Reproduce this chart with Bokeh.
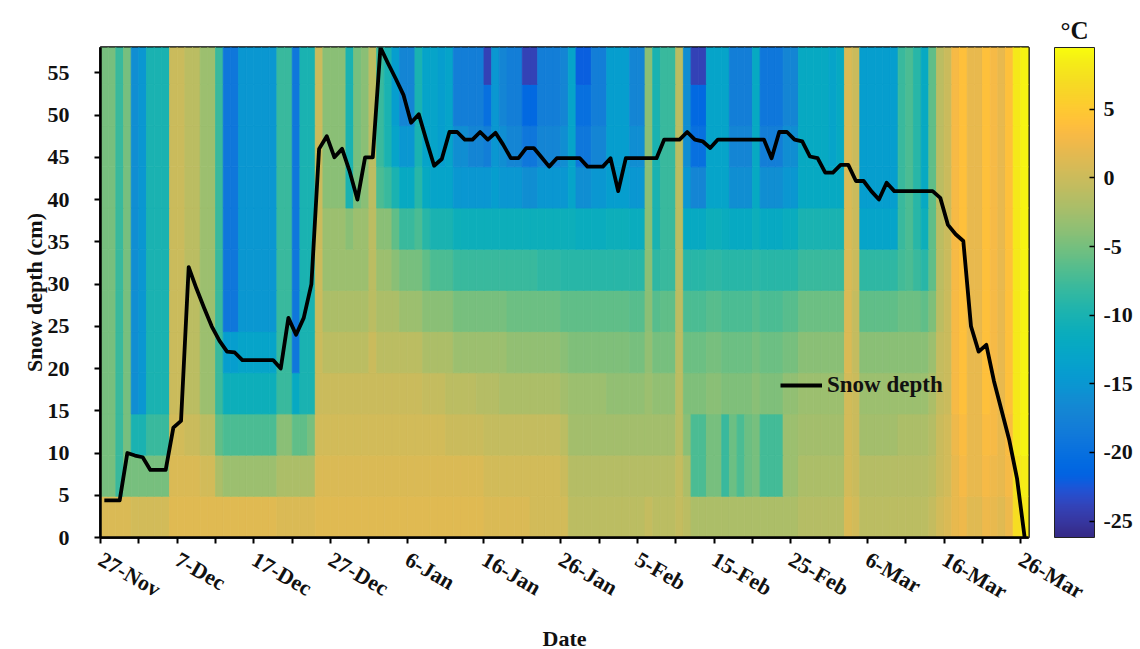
import math
import numpy as np
import pandas as pd
from bokeh.plotting import figure
from bokeh.models import (ColumnDataSource, LinearColorMapper, ColorBar, FixedTicker,
                          Legend, LegendItem, Range1d, Title)
from bokeh.transform import transform
from bokeh.embed import file_html
from bokeh.resources import INLINE

# ---------------- data ----------------
dates = pd.date_range("2019-11-27", "2020-03-26", freq="D")   # 121 days
tick_labels = ["27-Nov", "7-Dec", "17-Dec", "27-Dec", "6-Jan", "16-Jan", "26-Jan",
               "5-Feb", "15-Feb", "25-Feb", "6-Mar", "16-Mar", "26-Mar"]
depth_ticks = [0, 5, 10, 15, 20, 25, 30, 35, 40, 45, 50, 55]
cbar_ticks = [-25, -20, -15, -10, -5, 0, 5]
depth_edges_cm = [0, 4.875, 9.75, 14.625, 19.5, 24.375, 29.25, 34.125, 39.0,
                  43.875, 48.75, 53.625, 58.5]

snow_depth_cm = [
    4.4, 4.4, 4.4, 10.0,
    9.7, 9.5, 8.0, 8.0, 8.0,
    13.0, 13.8, 32.0, 29.5, 27.2, 25.0,
    23.3, 22.0, 21.9, 21.0, 21.0, 21.0, 21.0, 21.0,
    20.0, 26.0, 24.0, 26.0, 30.0,
    46.0, 47.5, 45.0, 46.0, 43.3, 40.0, 45.0, 45.0,
    58.0, 56.1, 54.3, 52.4, 49.1, 50.1, 47.0, 44.0, 44.8, 48.0,
    48.0, 47.1, 47.1, 48.0, 47.1, 47.9, 46.5, 44.9, 44.9, 46.1, 46.1, 45.0, 43.9, 44.9, 44.9,
    44.9, 44.9, 43.9, 43.9, 43.9, 44.9, 41.0, 44.9, 44.9, 44.9, 44.9, 44.9, 47.1, 47.1, 47.1, 48.0,
    47.1, 46.9, 46.1, 47.1, 47.1, 47.1, 47.1, 47.1, 47.1, 47.1, 44.9, 48.0, 48.0, 47.1,
    46.9, 45.1, 44.9, 43.2, 43.2, 44.1, 44.1, 42.2, 42.2, 41.0, 40.0, 42.0, 41.0, 41.0, 41.0, 41.0, 41.0, 41.0,
    40.2, 37.0, 35.9, 35.1, 25.0, 22.0, 22.8, 18.5, 15.0, 11.5, 7.0, 0.0,
]

# temperature (deg C) per depth layer, one value per day
temp_00_05cm = [
    1, 1, 1, 1,
    0.5, 0.5, 0.5, 0.5, 0.5,
    1.5, 1.5, 1.5, 1.5, 1.5, 1.5,
    1.5, 1.5, 1.5, 1.5, 1.5, 1.5, 1.5, 1.5,
    1, 1, 1, 1, 1,
    1.5, 1.5, 1.5, 1.5, 1.5, 1.5, 1.5, 1.5,
    1.5, 1.5, 1.5, 1.5, 1.5, 1.5, 1.5, 1.5, 1.5, 1.5,
    1.5, 1.5, 1.5, 1.5, 1, 1, 1, 1, 1, 1, 0.5, 0.5, 0.5, 0.5, 0.5,
    -1, -1, -1, -1, -1, -1, -1, -1, -1, -1, -0.5, -1, -1, -1, -0.5, -1,
    -2, -2, -2, -2, -2, -2, -2, -2, -2, -2, -2, -2, -2, -2,
    -1.5, -1.5, -1.5, -1.5, -1.5, -1.5, 1, 0.5, -1, -1, -1, -1, -1, -1, -1, -1, -1, -0.5,
    0.5, 1, 2, 2.5, 1.5, 1.5, 2.5, 2, 1.5, 2.5, 7, 8,
]
temp_05_10cm = [
    -5, -5, -8, -5,
    -5, -5, -5, -5, -5,
    1, 1, 1, 1, 0.5, 0.5,
    -2, -3, -3, -3, -3, -3, -3, -3,
    -2, -2, -2, -2, -2,
    1, 1, 1, 1, 1, 1, 1, 1,
    1, 1, 1, 1, 1, 1, 1, 1, 1, 1,
    1, 1, 1, 1, 0.5, 0.5, 0.5, 0.5, 0.5, 0.5, 0.5, 0.5, 0.5, 0.5, 0,
    -1.5, -1.5, -1.5, -1.5, -1.5, -1.5, -1.5, -1.5, -1.5, -1.5, -1.5, -1.5, -1.5, -1.5, -0.5, -2,
    -7, -7, -5, -5, -8, -5.5, -7, -5.5, -5, -7.5, -7.5, -7.5, -3, -3,
    -2, -2, -2, -2, -2, -2, 0.5, 0, -1.5, -1.5, -1.5, -1.5, -1.5, -1.5, -1.5, -1.5, -1.5, -1,
    0, 0.5, 2, 3, 2, 2, 3, 2.5, 2, 3, 7.5, 8.5,
]
temp_10_15cm = [
    -5, -5, -8, -5,
    -10, -10, -8, -8, -8,
    0.5, 0.5, 0, 0, -1, -1,
    -6, -7, -7, -7, -7, -7, -7, -7,
    -4, -4, -6, -6, -5,
    0.5, 0.5, 0.5, 0.5, 0.5, 0.5, 0.5, 0.5,
    0.5, 0.5, 0.5, 0.5, 0.5, 0.5, 0.5, 0.5, 0.5, 0,
    0, 0, 0, 0, -0.5, -0.5, -0.5, -0.5, -0.5, -0.5, -0.5, -0.5, -0.5, -0.5, -1,
    -2.5, -2.5, -2.5, -2.5, -2.5, -2.5, -2.5, -2.5, -2.5, -2.5, -2.5, -2.5, -2.5, -2.5, -1, -4,
    -7, -7, -5, -5, -8, -5.5, -7, -5.5, -5, -7.5, -7.5, -7.5, -3, -3,
    -2.5, -2.5, -2.5, -2.5, -2.5, -2.5, 0.5, 0, -2.5, -2.5, -2.5, -2.5, -2.5, -2, -2, -2, -2, -1.5,
    0, 0.5, 2.5, 3.5, 2, 2, 3.5, 3, 2, 3.5, 8, 9,
]
temp_15_20cm = [
    -5, -5, -8, -5,
    -16, -15, -10, -10, -10,
    0, 0, -1, -1, -3, -3,
    -8, -11, -11, -11, -11, -11, -11, -11,
    -8, -8, -12, -10, -10,
    0, 0, 0, 0, 0, 0, 0, 0,
    0, 0, 0, 0, 0, 0, -0.5, -0.5, -0.5, -1,
    -1, -1, -1, -1.5, -1.5, -1.5, -2, -2, -2, -2, -2, -2, -2, -2, -2.5,
    -3, -3, -3, -3, -3, -3.5, -3.5, -3.5, -3.5, -3.5, -3, -3.5, -3.5, -3.5, -1, -4.5,
    -4.5, -4.5, -4, -4, -4.5, -4.5, -4.5, -4.5, -4, -4.5, -4.5, -4.5, -3.5, -3.5,
    -3, -3, -3, -3, -3, -3, 0.5, 0, -3, -3, -3, -3, -3, -3, -3, -3, -3, -2,
    -0.5, 0, 3, 4, 2, 2, 4, 3, 2, 4, 8, 9,
]
temp_20_24cm = [
    -5, -5, -8, -5,
    -16, -15, -10, -10, -10,
    0, 0, -1, -1, -3, -3,
    -8, -14, -14, -13, -13, -13, -13, -13,
    -8, -8, -19, -10, -10,
    0, -1, -1, -1, -1, -1, -1, 0,
    -1, -1, -1, -1, -1, -1, -2, -2, -2, -2,
    -3, -3, -3, -3, -3, -3, -3, -3.5, -3.5, -3.5, -3.5, -3.5, -3.5, -3.5, -4,
    -4.5, -4.5, -4.5, -4.5, -4.5, -4.5, -4.5, -4.5, -5, -5, -3.5, -5, -5, -5, -1, -5.5,
    -5.5, -5.5, -5, -5, -5.5, -5.5, -5.5, -5.5, -5, -5.5, -5.5, -5.5, -5, -5,
    -4, -4, -4, -4, -4, -4, 1, -0.5, -4, -4, -4, -4, -4, -4, -4, -4, -4, -3,
    -0.5, 0, 3, 4, 2, 2, 4, 3, 2, 4, 8, 9,
]
temp_24_29cm = [
    -5, -5, -8, -5,
    -16, -15, -10, -10, -10,
    0, 0, -1, -1, -3, -3,
    -8, -19, -19, -15, -15, -15, -15, -15,
    -8, -8, -19, -10, -10,
    0, -2, -2, -2, -2, -2, -2, -1,
    -2, -2, -2, -3, -3, -3, -4, -4, -4, -4,
    -5, -5, -5, -5, -5, -5, -5, -5.5, -5.5, -5.5, -5.5, -5.5, -5.5, -5.5, -6,
    -6, -6, -6, -6, -6, -6, -6, -6, -6.5, -6.5, -4, -6.5, -6, -6, -1, -7,
    -7, -7, -6.5, -6.5, -7, -7, -7, -7, -6.5, -7, -7, -7, -6.5, -6.5,
    -5.5, -5.5, -5.5, -5.5, -5.5, -5.5, 1, -0.5, -6, -6, -6, -6, -6, -5.5, -5.5, -5.5, -6, -4.5,
    -1, 0, 3, 4, 2, 2, 4, 3, 2, 4, 8, 9,
]
temp_29_34cm = [
    -5, -5, -8, -5,
    -16, -15, -10, -10, -10,
    0, 0, -1, -1, -3, -3,
    -8, -19, -19, -15, -15, -15, -15, -15,
    -8, -8, -19, -10, -10,
    0, -3, -3, -3, -3, -3, -3, -1,
    -3, -3, -4, -5, -5, -5, -6, -7, -7, -7,
    -8, -8, -8, -8, -8, -8, -8, -8, -8, -8, -8, -8.5, -8.5, -8.5, -9,
    -9, -9, -9, -9, -9, -9, -9, -9, -9, -9, -4, -8.5, -8, -8, -1, -9,
    -9, -9, -8.5, -8.5, -9, -9, -9, -9, -8.5, -9, -9, -9, -9, -9,
    -8, -8, -8, -8, -8, -8, 1, 0, -8.5, -8.5, -8.5, -8.5, -8.5, -7.5, -7, -8, -9, -6,
    -1, 0, 3, 4, 2, 2, 4, 3, 2, 4, 8, 9,
]
temp_34_39cm = [
    -5, -5, -8, -5,
    -16, -15, -10, -10, -10,
    0, 0, -1, -1, -3, -3,
    -8, -19, -19, -15, -15, -15, -15, -15,
    -8, -8, -19, -10, -10,
    0, -3, -3, -3, -4, -3, -3, -1,
    -4, -4, -6, -8, -8, -7, -9, -10, -10, -10,
    -11, -11, -11, -11, -11, -11, -11, -11, -11, -11, -11, -11, -11, -11, -11,
    -11, -11.5, -11.5, -11.5, -11.5, -11, -11, -11, -11.5, -11.5, -4, -10, -8, -8, -1, -12,
    -12, -12, -11, -11, -11.5, -12, -12, -12, -11, -12, -12, -12, -11.5, -11.5,
    -10, -10, -10, -10, -10, -10, 1, 0, -13, -13, -13, -13, -13, -8, -7, -9, -11, -6,
    -1, 0, 3, 4, 2, 2, 4, 3, 2, 4, 8, 9,
]
temp_39_44cm = [
    -5, -5, -8, -5,
    -16, -15, -10, -10, -10,
    0, 0, -1, -1, -3, -3,
    -8, -19, -19, -15, -15, -15, -15, -15,
    -8, -8, -19, -10, -10,
    0, -4, -4, -4, -10, -5, -4, -1,
    -7, -8, -10, -12, -12, -9, -12, -13, -13, -13,
    -15, -15, -15, -15, -15, -14, -15, -15, -15, -16, -16, -15, -15, -15, -15,
    -13, -16, -16, -15, -15, -14, -14, -14, -15, -15, -4, -10, -8, -8, -1, -15,
    -17, -17, -13, -13, -13, -16, -16, -16, -12, -16, -16, -16, -15, -15,
    -12, -12, -12, -12, -12, -12, 1, 0, -14, -14, -14, -14, -14, -8, -7, -9, -12, -6,
    -1, 0, 3, 4, 2, 2, 4, 3, 2, 4, 8, 9,
]
temp_44_49cm = [
    -5, -5, -8, -5,
    -16, -15, -10, -10, -10,
    0, 0, -1, -1, -3, -3,
    -8, -19, -19, -15, -15, -15, -15, -15,
    -8, -8, -19, -10, -10,
    0, -4, -4, -4, -10, -5, -4, -1,
    -8, -10, -13, -15, -15, -10, -13, -13, -14, -13,
    -16, -16, -17, -17, -18, -15, -16, -17, -17, -19, -19, -17, -17, -17, -16,
    -13, -19, -19, -17, -17, -14, -14, -14, -16, -16, -4, -10, -8, -8, -1, -16,
    -20, -20, -13, -13, -13, -17, -17, -17, -12, -18, -18, -18, -16, -16,
    -12, -12, -12, -12, -13, -12, 1, 0, -14, -14, -14, -14, -14, -8, -7, -9, -12, -6,
    -1, 0, 3, 4, 2, 2, 4, 3, 2, 4, 8, 9,
]
temp_49_54cm = [
    -5, -5, -8, -5,
    -16, -15, -10, -10, -10,
    0, 0, -1, -1, -3, -3,
    -8, -19, -19, -15, -15, -15, -15, -15,
    -8, -8, -19, -10, -10,
    0, -4, -4, -4, -10, -5, -4, -1,
    -8, -10, -14, -17, -17, -10, -13, -13, -14, -13,
    -18, -18, -18, -18, -20, -15, -17, -18, -18, -21, -21, -18, -18, -18, -17,
    -13, -20, -20, -18, -18, -14, -14, -14, -17, -17, -4, -10, -8, -8, -1, -16,
    -21, -21, -13, -13, -13, -18, -18, -18, -12, -19, -19, -19, -17, -17,
    -12, -12, -12, -12, -13, -12, 1, 0, -14, -14, -14, -14, -14, -8, -7, -9, -12, -6,
    -1, 0, 3, 4, 2, 2, 4, 3, 2, 4, 8, 9,
]
temp_54_58cm = [
    -5, -5, -8, -5,
    -16, -15, -10, -10, -10,
    0, 0, -1, -1, -3, -3,
    -8, -19, -19, -15, -15, -15, -15, -15,
    -8, -8, -19, -10, -10,
    0, -4, -4, -4, -10, -5, -4, -1,
    -8, -10, -14, -17, -17, -10, -13, -13, -14, -13,
    -18, -18, -18, -18, -24, -15, -17, -18, -18, -24, -24, -18, -18, -18, -17,
    -13, -22, -22, -18, -18, -14, -14, -14, -17, -17, -4, -10, -8, -8, -1, -16,
    -24, -24, -13, -13, -13, -18, -18, -18, -12, -19, -19, -19, -17, -17,
    -12, -12, -12, -12, -13, -12, 1, 0, -14, -14, -14, -14, -14, -8, -7, -9, -12, -6,
    -1, 0, 3, 4, 2, 2, 4, 3, 2, 4, 8, 9,
]

layers = [temp_00_05cm, temp_05_10cm, temp_10_15cm, temp_15_20cm, temp_20_24cm,
          temp_24_29cm, temp_29_34cm, temp_34_39cm, temp_39_44cm, temp_44_49cm,
          temp_49_54cm, temp_54_58cm]

# ---------------- colour map (MATLAB parula) ----------------
PARULA = [
    (0.2081, 0.1663, 0.5292), (0.2116, 0.1898, 0.5777), (0.2123, 0.2138, 0.6270), (0.2081, 0.2386, 0.6771),
    (0.1959, 0.2645, 0.7279), (0.1707, 0.2919, 0.7792), (0.1253, 0.3242, 0.8303), (0.0591, 0.3598, 0.8683),
    (0.0117, 0.3875, 0.8820), (0.0060, 0.4086, 0.8828), (0.0165, 0.4266, 0.8786), (0.0329, 0.4430, 0.8720),
    (0.0498, 0.4586, 0.8641), (0.0629, 0.4737, 0.8554), (0.0723, 0.4887, 0.8467), (0.0779, 0.5040, 0.8384),
    (0.0793, 0.5200, 0.8312), (0.0749, 0.5375, 0.8263), (0.0641, 0.5570, 0.8240), (0.0488, 0.5772, 0.8228),
    (0.0343, 0.5966, 0.8199), (0.0265, 0.6137, 0.8135), (0.0239, 0.6287, 0.8038), (0.0231, 0.6418, 0.7913),
    (0.0228, 0.6535, 0.7768), (0.0267, 0.6642, 0.7607), (0.0384, 0.6743, 0.7436), (0.0590, 0.6838, 0.7254),
    (0.0843, 0.6928, 0.7062), (0.1133, 0.7015, 0.6859), (0.1453, 0.7098, 0.6646), (0.1801, 0.7177, 0.6424),
    (0.2178, 0.7250, 0.6193), (0.2586, 0.7317, 0.5954), (0.3022, 0.7376, 0.5712), (0.3482, 0.7424, 0.5473),
    (0.3953, 0.7459, 0.5244), (0.4420, 0.7481, 0.5033), (0.4871, 0.7491, 0.4840), (0.5300, 0.7491, 0.4661),
    (0.5709, 0.7485, 0.4494), (0.6099, 0.7473, 0.4337), (0.6473, 0.7456, 0.4188), (0.6834, 0.7435, 0.4044),
    (0.7184, 0.7411, 0.3905), (0.7525, 0.7384, 0.3768), (0.7858, 0.7356, 0.3633), (0.8185, 0.7327, 0.3498),
    (0.8507, 0.7299, 0.3360), (0.8824, 0.7274, 0.3217), (0.9139, 0.7258, 0.3063), (0.9450, 0.7261, 0.2886),
    (0.9739, 0.7314, 0.2666), (0.9938, 0.7455, 0.2403), (0.9990, 0.7653, 0.2164), (0.9955, 0.7861, 0.1967),
    (0.9880, 0.8066, 0.1794), (0.9789, 0.8271, 0.1633), (0.9697, 0.8481, 0.1475), (0.9626, 0.8705, 0.1309),
    (0.9589, 0.8949, 0.1132), (0.9598, 0.9218, 0.0948), (0.9661, 0.9514, 0.0755), (0.9763, 0.9831, 0.0538),
]
_par = np.array(PARULA)
_xs = np.linspace(0, 1, len(PARULA))
palette = []
for v in np.linspace(0, 1, 256):
    rgb = [int(round(np.interp(v, _xs, _par[:, c]) * 255)) for c in range(3)]
    palette.append("#%02x%02x%02x" % tuple(rgb))

mapper = LinearColorMapper(palette=palette, low=-26.2, high=9.5)

# ---------------- heat-map cells ----------------
n_days = len(dates)
left, right, bottom, top, temp = [], [], [], [], []
for k, layer in enumerate(layers):
    assert len(layer) == n_days, (k, len(layer))
    for i, v in enumerate(layer):
        left.append(i)
        right.append(i + 1)
        bottom.append(depth_edges_cm[k])
        top.append(depth_edges_cm[k + 1])
        temp.append(v)
assert len(snow_depth_cm) == n_days, len(snow_depth_cm)
cells = ColumnDataSource(dict(left=left, right=right, bottom=bottom, top=top, t=temp))

FONT = "Liberation Serif"

p = figure(frame_width=928, frame_height=490,
           x_range=Range1d(0, n_days), y_range=Range1d(0, 58),
           output_backend="svg", toolbar_location=None,
           min_border_left=100, min_border_top=47, min_border_right=112, min_border_bottom=100,
           background_fill_color="white", border_fill_color="white")

p.quad(left="left", right="right", bottom="bottom", top="top", source=cells,
       fill_color=transform("t", mapper), line_color=transform("t", mapper), line_width=0.8)

snow_line = p.line(x=[i + 0.5 for i in range(n_days)], y=snow_depth_cm,
                   line_color="black", line_width=3.8, line_join="round")

p.grid.visible = False
p.outline_line_color = "black"
p.outline_line_width = 2.5

tick_days = list(range(0, n_days, 10))
p.xaxis.ticker = FixedTicker(ticks=tick_days, minor_ticks=list(range(5, n_days - 1, 10)))
p.xaxis.major_label_overrides = {d: lab for d, lab in zip(tick_days, tick_labels)}
p.xaxis.major_label_orientation = -math.pi / 6
p.yaxis.ticker = FixedTicker(ticks=depth_ticks, minor_ticks=[])

for ax in (p.xaxis[0], p.yaxis[0]):
    ax.axis_line_color = "black"
    ax.axis_line_width = 2.5
    ax.major_tick_line_color = "black"
    ax.major_tick_line_width = 2
    ax.major_tick_in = 0
    ax.major_tick_out = 6
    ax.minor_tick_line_color = "black"
    ax.minor_tick_line_width = 2
    ax.minor_tick_in = 0
    ax.minor_tick_out = 6
    ax.major_label_text_font = FONT
    ax.major_label_text_font_style = "bold"
    ax.major_label_text_font_size = "22px"
    ax.major_label_text_color = "#111111"
    ax.axis_label_text_font = FONT
    ax.axis_label_text_font_style = "bold"
    ax.axis_label_text_font_size = "22px"
    ax.axis_label_text_color = "#111111"

p.xaxis.axis_label = "Date"
p.xaxis.major_label_standoff = 14
p.xaxis.axis_label_standoff = 8
p.yaxis.axis_label = "Snow depth (cm)"
p.yaxis.major_label_standoff = 25
p.yaxis.axis_label_standoff = -2

legend = Legend(items=[LegendItem(label="Snow depth", renderers=[snow_line])],
                location=(680, 139), orientation="vertical",
                background_fill_alpha=0, border_line_alpha=0, padding=0, margin=0,
                glyph_width=42, glyph_height=20, label_standoff=5,
                label_text_font=FONT, label_text_font_style="bold",
                label_text_font_size="23px", label_text_color="#111111")
p.add_layout(legend)

cbar = ColorBar(color_mapper=mapper, width=40, height=490, location=(26, 0),
                padding=0, margin=0,
                ticker=FixedTicker(ticks=cbar_ticks),
                major_label_overrides={t: str(t) for t in cbar_ticks},
                major_tick_line_color="black", major_tick_line_width=1.5,
                major_tick_in=5, major_tick_out=0,
                bar_line_color="#222222", bar_line_width=1,
                border_line_color=None, background_fill_color=None,
                label_standoff=9,
                major_label_text_font=FONT, major_label_text_font_style="bold",
                major_label_text_font_size="22px", major_label_text_color="#111111")
p.add_layout(cbar, "right")

unit_title = Title(text="°C", align="right", offset=-60, standoff=8,
                   text_font=FONT, text_font_style="bold", text_font_size="25px",
                   text_color="#111111")
p.add_layout(unit_title, "above")

open("out.html", "w").write(file_html(p, INLINE))
